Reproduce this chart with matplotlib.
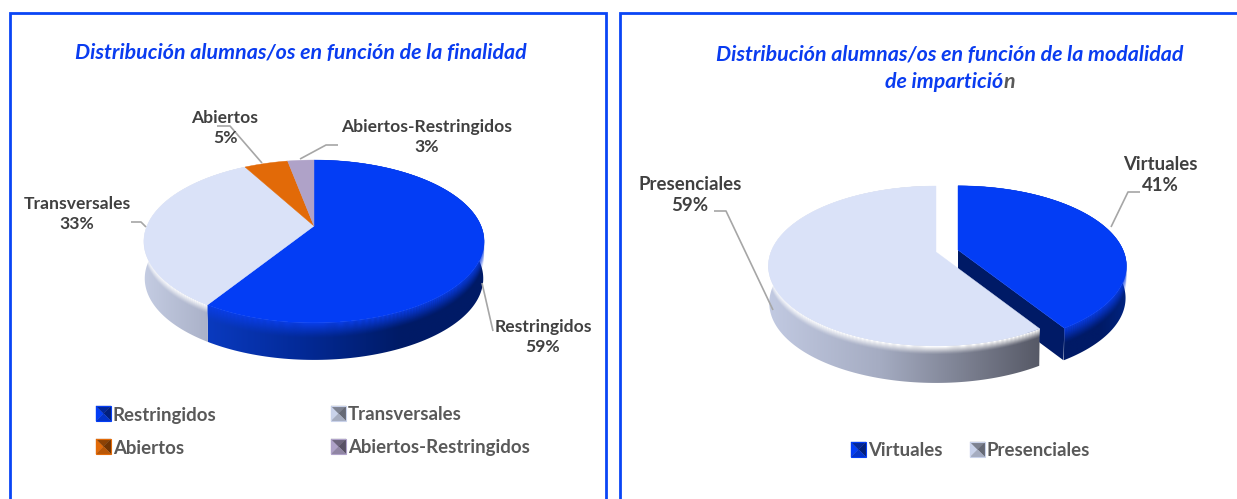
import numpy as np
import matplotlib
matplotlib.use("Agg")
import matplotlib.pyplot as plt
from matplotlib.colors import to_rgb
from matplotlib.patches import Polygon, Rectangle

# ---------- data ----------
finalidad_labels = ["Restringidos", "Transversales", "Abiertos", "Abiertos-Restringidos"]
finalidad_values = [59, 33, 5, 3]
modalidad_labels = ["Virtuales", "Presenciales"]
modalidad_values = [41, 59]
title_left = "Distribución alumnas/os en función de la finalidad"
title_right_1 = "Distribución alumnas/os en función de la modalidad"
title_right_2 = "de impartició"
title_right_3 = "n"

BLUE = "#0A3CF0"
BLUE_TOP = "#033DF5"
LIGHT_TOP = "#DAE2F8"
ORANGE = "#E26A08"
LILAC = "#AFA2C8"
LABEL = "#404040"
LEGEND = "#595959"
LEADER = "#A6A6A6"

plt.rcParams["font.family"] = ["Lato", "DejaVu Sans"]
fig = plt.figure(figsize=(12.37, 4.99), dpi=100)
ax = fig.add_axes([0, 0, 1, 1])
ax.set_axis_off()


def project(theta, c):
    """Clockwise angle from 12 o'clock -> pixel position with perspective."""
    u, t = np.sin(theta), -np.cos(theta)
    den = 1 - c["k"] * t
    return c["x"] + c["B"] * u / den, c["y"] + c["A"] * t / den


def arc(a, b, c, n=160):
    return project(np.linspace(a, b, n), c)


def gradient(poly_xy, stops, z):
    poly = Polygon(poly_xy, closed=True, transform=ax.transData, fc="none", ec="none")
    ax.add_patch(poly)
    xs = np.array([s[0] for s in stops], float)
    cols = np.array([to_rgb(s[1]) for s in stops])
    x0, x1 = poly_xy[:, 0].min() - 1, poly_xy[:, 0].max() + 1
    grid = np.linspace(x0, x1, 300)
    img = np.stack([np.interp(grid, xs, cols[:, i]) for i in range(3)], axis=-1)[None, :, :]
    im = ax.imshow(img, extent=(x0, x1, poly_xy[:, 1].max() + 1, poly_xy[:, 1].min() - 1),
                   aspect="auto", zorder=z, interpolation="bilinear")
    im.set_clip_path(poly)


def wedge_poly(a, b, c):
    xs, ys = arc(a, b, c)
    return np.column_stack([np.r_[c["x"], xs], np.r_[c["y"], ys]])


def wall(a, b, c, stops, z, rim, rim_alpha, rim_h):
    xs, ys = arc(a, b, c)
    d = c["d"]
    xb = c["x"] + (xs - c["x"]) * 0.995
    poly = np.column_stack([np.r_[xs, xb[::-1]], np.r_[ys, ys[::-1] + d]])
    gradient(poly, stops, z)
    # bevel just below the top edge
    for i in range(rim_h):
        alpha = rim_alpha * (1 - i / rim_h) ** 1.3
        strip = np.column_stack([np.r_[xs, xs[::-1]], np.r_[ys + i, ys[::-1] + i + 1.2]])
        ax.add_patch(Polygon(strip, closed=True, fc=rim, ec="none", alpha=alpha, zorder=z + 0.1))


def fractions(values):
    v = np.asarray(values, float)
    return np.r_[0, np.cumsum(v)] / v.sum() * 2 * np.pi


# ---------- panel frames ----------
ax.plot([10, 10, 606, 606], [499, 13, 13, 499], color="#0A45F5", lw=2, zorder=1, solid_joinstyle="miter")
ax.plot([620, 620, 1237], [499, 13, 13], color="#0A45F5", lw=2, zorder=1, solid_joinstyle="miter")

# ---------- left pie ----------
c1 = dict(x=314, y=226, A=78.5, B=167, k=0.19, d=37)
e = fractions(finalidad_values)
# going clockwise from 12 o'clock: Restringidos, Transversales, Abiertos, Abiertos-Restringidos
wall(e[0], e[1], c1, [(208, "#0A3ABF"), (300, "#032A98"), (400, "#001B66"), (485, "#001A66")], 3,
     "#0A3EE8", 0.95, 15)
wall(e[1], e[2], c1, [(144, "#C4CCE2"), (213, "#A8AFC6")], 3, "#FFFFFF", 1.0, 8)
for i, col in enumerate([BLUE_TOP, LIGHT_TOP, ORANGE, LILAC]):
    ax.add_patch(Polygon(wedge_poly(e[i], e[i + 1], c1), closed=True, fc=col, ec=col, lw=0.3, zorder=5))

# ---------- right pie ----------
m = fractions(modalidad_values)
c2b = dict(x=958, y=250, A=77, B=165, k=0.2, d=32)
c2l = dict(x=936, y=252, A=77.5, B=165, k=0.175, d=37)
# exploded slice first, its cut face is partly hidden by the larger slice
xs_end, ys_end = project(m[1], c2b)
ax.add_patch(Polygon([[c2b["x"], c2b["y"]], [xs_end, ys_end], [xs_end - 1, ys_end + 32],
                      [c2b["x"], c2b["y"] + 32]], closed=True, fc="#001A66", ec="none", zorder=2.5))
wall(m[0], m[1], c2b, [(958, "#001A66"), (1100, "#001A66"), (1126, "#00237F")], 3,
     "#0A3EE8", 0.95, 15)
ax.add_patch(Polygon(wedge_poly(m[0], m[1], c2b), closed=True, fc=BLUE_TOP, ec=BLUE_TOP, lw=0.3, zorder=5))
wall(m[1], m[2], c2l, [(768, "#C2CAE2"), (880, "#A5ACC2"), (980, "#747888"), (1042, "#555865")], 6,
     "#FFFFFF", 1.0, 8)
ax.add_patch(Polygon(wedge_poly(m[1], m[2], c2l), closed=True, fc=LIGHT_TOP, ec=LIGHT_TOP, lw=0.3, zorder=7))

# ---------- leader lines ----------
leaders = [
    [(217, 126), (230, 126), (262, 163)],
    [(338, 145), (326, 145), (300, 159)],
    [(131, 222), (141, 222), (146, 227)],
    [(493, 331), (482, 283)],
    [(1140, 192), (1128, 192), (1111, 227)],
    [(714, 211), (726, 211), (773, 310)],
]
for pts in leaders:
    p = np.array(pts)
    ax.plot(p[:, 0], p[:, 1], color=LEADER, lw=1.2, zorder=4.5 if pts[0][0] == 493 else 8, solid_capstyle="butt")

# ---------- data labels ----------
def dlabel(x, y, name, val, fs=12.6, ls=1.32):
    ax.text(x, y, f"{name}\n{val}%", ha="center", va="center", fontsize=fs, fontweight="bold",
            color=LABEL, linespacing=ls, zorder=9)

dlabel(543, 337, finalidad_labels[0], finalidad_values[0])
dlabel(77, 214, finalidad_labels[1], finalidad_values[1])
dlabel(225, 128, finalidad_labels[2], finalidad_values[2])
dlabel(427, 137, finalidad_labels[3], finalidad_values[3])
dlabel(1160, 175, modalidad_labels[0], modalidad_values[0], fs=13.4, ls=1.3)
dlabel(690, 195, modalidad_labels[1], modalidad_values[1], fs=13.4, ls=1.3)

# ---------- titles ----------
TITLE_FS = 15.4
t_kw = dict(fontsize=TITLE_FS, fontweight="bold", style="italic", va="center", zorder=9)
ax.text(301, 53, title_left, ha="center", color=BLUE, **t_kw)
ax.text(950, 55, title_right_1, ha="center", color=BLUE, **t_kw)
t2 = ax.text(885, 82, title_right_2, ha="left", color=BLUE, **t_kw)
ax.annotate(title_right_3, xy=(1, 0.5), xycoords=t2, xytext=(0, 0), textcoords="offset points",
            ha="left", va="center", color="#595959", fontsize=TITLE_FS, fontweight="bold", style="italic")

# ---------- legends ----------
def marker(x, y, base, s=15):
    r = np.array(to_rgb(base))
    shade = {"l": r, "t": r * 0.62, "r": r * 0.5, "b": r * 0.82}
    cx, cy = x + s / 2, y + s / 2
    corners = {"l": [(x, y), (x, y + s)], "t": [(x, y), (x + s, y)],
               "r": [(x + s, y), (x + s, y + s)], "b": [(x, y + s), (x + s, y + s)]}
    for k, pts in corners.items():
        ax.add_patch(Polygon(pts + [(cx, cy)], closed=True, fc=shade[k], ec=shade[k], lw=0.2, zorder=9))
    ax.add_patch(Rectangle((x, y), s, s, fc="none", ec=base, lw=0.8, zorder=9.5))


legend_entries = [
    (96, 414, finalidad_labels[0], BLUE_TOP),
    (331, 414, finalidad_labels[1], "#C9D2EA"),
    (96, 447, finalidad_labels[2], ORANGE),
    (331, 447, finalidad_labels[3], LILAC),
    (851, 450, modalidad_labels[0], BLUE_TOP),
    (970, 450, modalidad_labels[1], "#C9D2EA"),
]
for x, y, name, col in legend_entries:
    marker(x, y - 8, col)
    ax.text(x + 17, y + 1, name, ha="left", va="center", fontsize=13.45, fontweight="bold", color=LEGEND, zorder=9)

ax.set_xlim(0, 1237)
ax.set_ylim(499, 0)
fig.savefig("out.png", dpi=100, facecolor="white")
